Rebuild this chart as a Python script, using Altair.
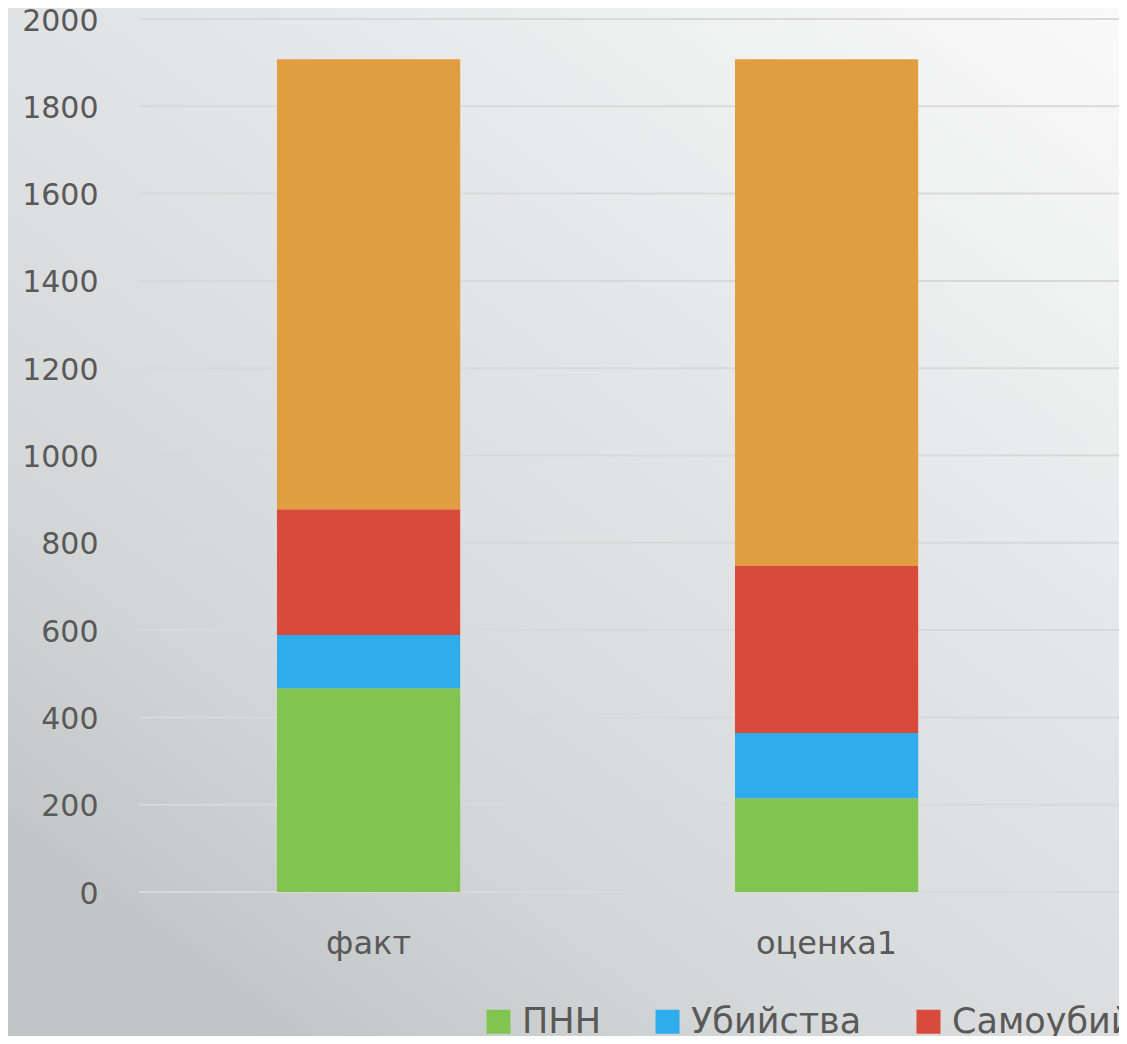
import altair as alt
import pandas as pd

categories = ["факт", "оценка1"]
series = ["ПНН", "Убийства", "Самоубийства", "Прочие"]
values_fact = [467, 122, 288, 1031]
values_est = [215, 149, 383, 1161]
colors = ["#82C450", "#2FACEB", "#D84B3B", "#E19E40"]
y_ticks = [0, 200, 400, 600, 800, 1000, 1200, 1400, 1600, 1800, 2000]

rows = []
for cat, vals in zip(categories, [values_fact, values_est]):
    for i, (s, v) in enumerate(zip(series, vals)):
        rows.append({"cat": cat, "series": s, "value": v, "order": i})
df = pd.DataFrame(rows)

W, H = 980, 873
PAD_L, PAD_T, PAD_B = 131, 11, 144
FONT = "DejaVu Sans"
TXT = "#595959"

y_scale = alt.Scale(domain=[0, 2000], nice=False)
y_axis = alt.Axis(title=None, values=y_ticks, format="d", grid=False, domain=False, ticks=False,
                  tickSize=0, labelPadding=41, labelFontSize=30, labelFont=FONT,
                  labelColor=TXT, labelOffset=2, zindex=1)

bg = alt.Chart(pd.DataFrame({"a": [0]})).mark_rect(
    fill=alt.Gradient(
        gradient="linear",
        stops=[alt.GradientStop(color="#fafafa", offset=0),
               alt.GradientStop(color="#e4e5e6", offset=0.42),
               alt.GradientStop(color="#d5d8d9", offset=0.75),
               alt.GradientStop(color="#c0c4c5", offset=1)],
        x1=1, y1=0, x2=0.2, y2=1)
).encode(x=alt.value(-PAD_L), x2=alt.value(W), y=alt.value(-PAD_T), y2=alt.value(H + PAD_B))

grid = alt.Chart(pd.DataFrame({"value": y_ticks})).mark_rule(
    color="#d9d9d9", strokeWidth=2
).encode(
    y=alt.Y("value:Q", scale=y_scale, axis=y_axis),
    x=alt.value(0), x2=alt.value(W),
)

bars = alt.Chart(df).mark_bar().encode(
    x=alt.X("cat:N", sort=categories,
            scale=alt.Scale(paddingInner=0.6, paddingOuter=0.36987, align=0.4073),
            axis=alt.Axis(title=None, labelAngle=0, labelFontSize=32, labelFont=FONT,
                          labelColor=TXT, domain=False, ticks=False, tickSize=0,
                          labelPadding=36, zindex=1)),
    y=alt.Y("value:Q", stack="zero", scale=y_scale, axis=y_axis),
    color=alt.Color("series:N", sort=series,
                    scale=alt.Scale(domain=series, range=colors),
                    legend=alt.Legend(title=None, orient="none", legendX=342, legendY=985,
                                      direction="horizontal", symbolType="square",
                                      symbolSize=576, symbolStrokeWidth=0,
                                      labelFontSize=35, labelFont=FONT, labelColor=TXT,
                                      labelOffset=6, columnPadding=49, padding=0,
                                      labelLimit=0, zindex=1)),
    order=alt.Order("order:Q"),
)

chart = alt.layer(bg, grid, bars).properties(
    width=W, height=H,
    autosize=alt.AutoSizeParams(type="none"),
    padding={"left": PAD_L, "top": PAD_T, "right": 0, "bottom": PAD_B},
).configure_view(stroke=None).configure(background="#d5d7d8")

chart.save("out.html", embed_options={"renderer": "svg", "actions": False})
